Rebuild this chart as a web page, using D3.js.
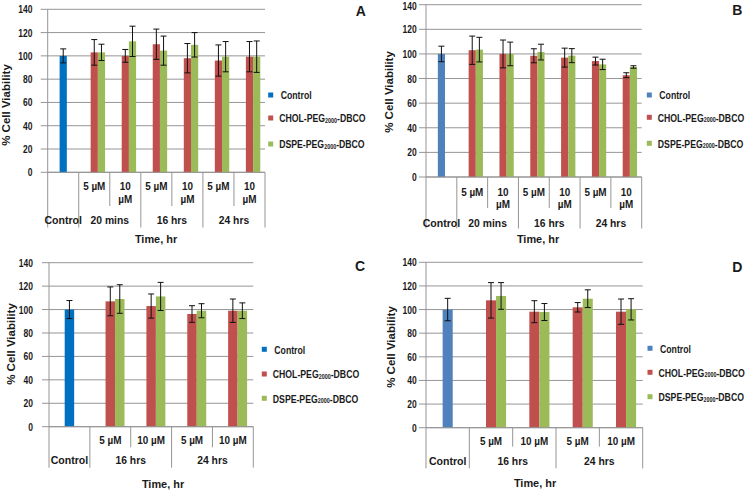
<!DOCTYPE html>
<html><head><meta charset="utf-8">
<script src="https://cdn.jsdelivr.net/npm/d3@7"></script>
<style>
body{margin:0;background:#fff}
svg{display:block}
text{font-family:"Liberation Sans",Arial,Helvetica,sans-serif;font-weight:bold;fill:#1a1a1a}
</style>
</head><body>
<svg id="chart" width="750" height="490"></svg>
<script>
// ---------- data ----------
const yTicks = [0, 20, 40, 60, 80, 100, 120, 140];
const timeGroupsAB = ["20 mins", "16 hrs", "24 hrs"];
const timeGroupsCD = ["16 hrs", "24 hrs"];
const concLabels = ["5 µM", "10 µM"];
const legendNames = ["Control", "CHOL-PEG|2000|-DBCO", "DSPE-PEG|2000|-DBCO"];
const panelLetters = ["A", "B", "C", "D"];

// Panel A
const controlA = [100], controlErrA = [6];
const cholA = [103, 100, 110, 98, 96, 99.3];
const cholErrA = [11, 5.5, 13, 12.6, 13.4, 13];
const dspeA = [103, 112.5, 104.5, 109.5, 99.3, 99.3];
const dspeErrA = [7, 13, 12.5, 10.5, 13, 13.5];

// Panel B
const controlB = [100], controlErrB = [6.3];
const cholB = [103, 100, 98.5, 97, 94.2, 82.7];
const cholErrB = [11.5, 11.3, 5.7, 7.7, 3.2, 2];
const dspeB = [103.5, 100, 101.5, 98.6, 91.5, 89.4];
const dspeErrB = [10, 9.6, 6.4, 5.7, 4.2, 1];

// Panel C
const controlC = [100], controlErrC = [7.7];
const cholC = [107, 103, 96.2, 99];
const cholErrC = [12.3, 10.3, 7.1, 10];
const dspeC = [109, 111.2, 99, 99];
const dspeErrC = [12.2, 12, 6, 6.7];

// Panel D
const controlD = [100], controlErrD = [9.5];
const cholD = [107.8, 98.2, 101.9, 98.2];
const cholErrD = [15, 9.3, 4, 10.7];
const dspeD = [111.5, 97.9, 109.2, 100.2];
const dspeErrD = [11.3, 7.2, 7.5, 9];

// ---------- layout / style ----------
const RED = "#C0504D", GREEN = "#9BBB59", GRID = "#959595";
const layouts = [
  {x0:47.7, x1:265, yTop:9.3, yBot:172.3, shortY:206, longY:227.5, l1Y:186, l1Y2:199, wrap:true, l2Y:219.5, timeX:156, timeY:238.5, titleX:5.5, titleY:105, tickRX:32.5, legX:270.7, legY:[95,118,144], letterX:360.7, letterY:11, blue:"#0070C0"},
  {x0:426, x1:641.7, yTop:4.7, yBot:177, shortY:208, longY:228.5, l1Y:192, l1Y2:204, wrap:true, l2Y:223, timeX:538, timeY:238.5, titleX:389, titleY:92, tickRX:416.7, legX:649.3, legY:[95,117.3,143.3], letterX:737.3, letterY:10, blue:"#4F81BD"},
  {x0:49, x1:253.3, yTop:262.7, yBot:426.7, shortY:447.3, longY:467.7, l1Y:440, wrap:false, l2Y:460, timeX:163, timeY:484, titleX:10.5, titleY:344, tickRX:33, legX:264.3, legY:[349.3,374,398.3], letterX:360, letterY:266, blue:"#0070C0"},
  {x0:426, x1:642.7, yTop:262.3, yBot:427.7, shortY:446.7, longY:468.3, l1Y:441.7, wrap:false, l2Y:461, timeX:535, timeY:482.7, titleX:391, titleY:347, tickRX:416.7, legX:650, legY:[348.3,372.3,396.7], letterX:737.3, letterY:266.7, blue:"#4F81BD"}
];
const panelData = [
  {groups: timeGroupsAB, ctrl: controlA, ctrlErr: controlErrA, chol: cholA, cholErr: cholErrA, dspe: dspeA, dspeErr: dspeErrA},
  {groups: timeGroupsAB, ctrl: controlB, ctrlErr: controlErrB, chol: cholB, cholErr: cholErrB, dspe: dspeB, dspeErr: dspeErrB},
  {groups: timeGroupsCD, ctrl: controlC, ctrlErr: controlErrC, chol: cholC, cholErr: cholErrC, dspe: dspeC, dspeErr: dspeErrC},
  {groups: timeGroupsCD, ctrl: controlD, ctrlErr: controlErrD, chol: cholD, cholErr: cholErrD, dspe: dspeD, dspeErr: dspeErrD}
];

const svg = d3.select("#chart");

function txt(g, x, y, s, o = {}) {
  const t = g.append("text")
    .attr("transform", `translate(${x},${y})${o.rot ? ` rotate(${o.rot})` : ""} scale(${o.sx || 1},1)`)
    .attr("text-anchor", o.anchor || "middle")
    .attr("dominant-baseline", "central")
    .attr("font-size", o.size || 10)
    .text(s);
  return t;
}

function drawPanel(d, L, letter) {
  const g = svg.append("g");
  const cats = ["Control"];
  d.groups.forEach(gr => concLabels.forEach(c => cats.push(gr + "|" + c)));
  const x = d3.scaleBand().domain(cats).range([L.x0, L.x1]).padding(0);
  const y = d3.scaleLinear().domain([0, 140]).range([L.yBot, L.yTop]);
  const w = x.bandwidth() * 0.232;
  const cx = c => x(c) + x.bandwidth() / 2;

  // gridlines + ticks
  yTicks.forEach(v => {
    g.append("line").attr("x1", L.x0 - 7).attr("x2", L.x1)
      .attr("y1", y(v)).attr("y2", y(v))
      .attr("stroke", GRID).attr("stroke-width", 1);
    txt(g, L.tickRX, Math.max(y(v), 5.8), String(v), {anchor: "end", size: 11.5, sx: 0.74});
  });

  // bars
  const recs = [];
  recs.push({c: "Control", v: d.ctrl[0], e: d.ctrlErr[0], off: -0.5, col: L.blue});
  cats.slice(1).forEach((c, i) => {
    recs.push({c, v: d.chol[i], e: d.cholErr[i], off: -0.5, col: RED});
    recs.push({c, v: d.dspe[i], e: d.dspeErr[i], off: 0.5, col: GREEN});
  });
  g.selectAll("rect.bar").data(recs).join("rect").attr("class", "bar")
    .attr("x", r => cx(r.c) + r.off * w).attr("width", w)
    .attr("y", r => y(r.v)).attr("height", r => y(0) - y(r.v))
    .attr("fill", r => r.col);

  // error bars
  const eb = g.append("g").attr("stroke", "#111").attr("stroke-width", 1);
  recs.forEach(r => {
    const mx = cx(r.c) + (r.off + 0.5) * w;
    eb.append("line").attr("x1", mx).attr("x2", mx).attr("y1", y(r.v + r.e)).attr("y2", y(r.v - r.e));
    [r.v + r.e, r.v - r.e].forEach(v => eb.append("line").attr("x1", mx - 3).attr("x2", mx + 3).attr("y1", y(v)).attr("y2", y(v)));
  });

  // axes
  const ax = g.append("g").attr("stroke", GRID).attr("stroke-width", 1);
  ax.append("line").attr("x1", L.x0).attr("x2", L.x0).attr("y1", L.yTop).attr("y2", L.longY);
  ax.append("line").attr("x1", L.x0).attr("x2", L.x1).attr("y1", L.yBot).attr("y2", L.yBot);
  cats.forEach((c, i) => {
    if (i === 0) return;
    const isGroupStart = (i - 1) % 2 === 0;
    ax.append("line").attr("x1", x(c)).attr("x2", x(c)).attr("y1", L.yBot)
      .attr("y2", isGroupStart ? L.longY : L.shortY);
  });
  ax.append("line").attr("x1", L.x1).attr("x2", L.x1).attr("y1", L.yBot).attr("y2", L.longY);

  // category labels
  cats.slice(1).forEach(c => {
    const conc = c.split("|")[1];
    if (L.wrap && conc.startsWith("10")) {
      txt(g, cx(c), L.l1Y, "10", {size: 11, sx: 0.9});
      txt(g, cx(c), L.l1Y2, "µM", {size: 11, sx: 0.9});
    } else {
      txt(g, cx(c), L.l1Y, conc, {size: 11, sx: 0.9});
    }
  });
  txt(g, cx("Control"), L.l2Y, "Control", {size: 11.5, sx: 0.92});
  d.groups.forEach(gr => {
    const a = x(gr + "|" + concLabels[0]), b = x(gr + "|" + concLabels[1]) + x.bandwidth();
    txt(g, (a + b) / 2, L.l2Y, gr, {size: 11.5, sx: 0.9});
  });

  // axis titles
  txt(g, L.timeX, L.timeY, "Time, hr", {size: 11.5, sx: 0.95});
  txt(g, L.titleX, L.titleY, "% Cell Viability", {size: 11.5, rot: -90});

  // legend
  const cols = [L.blue, RED, GREEN];
  legendNames.forEach((n, i) => {
    g.append("rect").attr("x", L.legX - 2.5).attr("y", L.legY[i] - 2.5)
      .attr("width", 5).attr("height", 5).attr("fill", cols[i]);
    const parts = n.split("|");
    const t = g.append("text")
      .attr("transform", `translate(${L.legX + 8.5 + (i === 0 ? 1.5 : 0)},${L.legY[i]}) scale(0.83,1)`)
      .attr("dominant-baseline", "central").attr("font-size", 10.5);
    t.append("tspan").text(parts[0]);
    if (parts.length > 1) {
      t.append("tspan").attr("font-size", 6.5).attr("dy", 3).text(parts[1]);
      t.append("tspan").attr("dy", -3).text(parts[2]);
    }
  });

  // panel letter
  txt(g, L.letterX, L.letterY, letter, {size: 14});
}

panelData.forEach((d, i) => drawPanel(d, layouts[i], panelLetters[i]));
</script>
</body></html>
